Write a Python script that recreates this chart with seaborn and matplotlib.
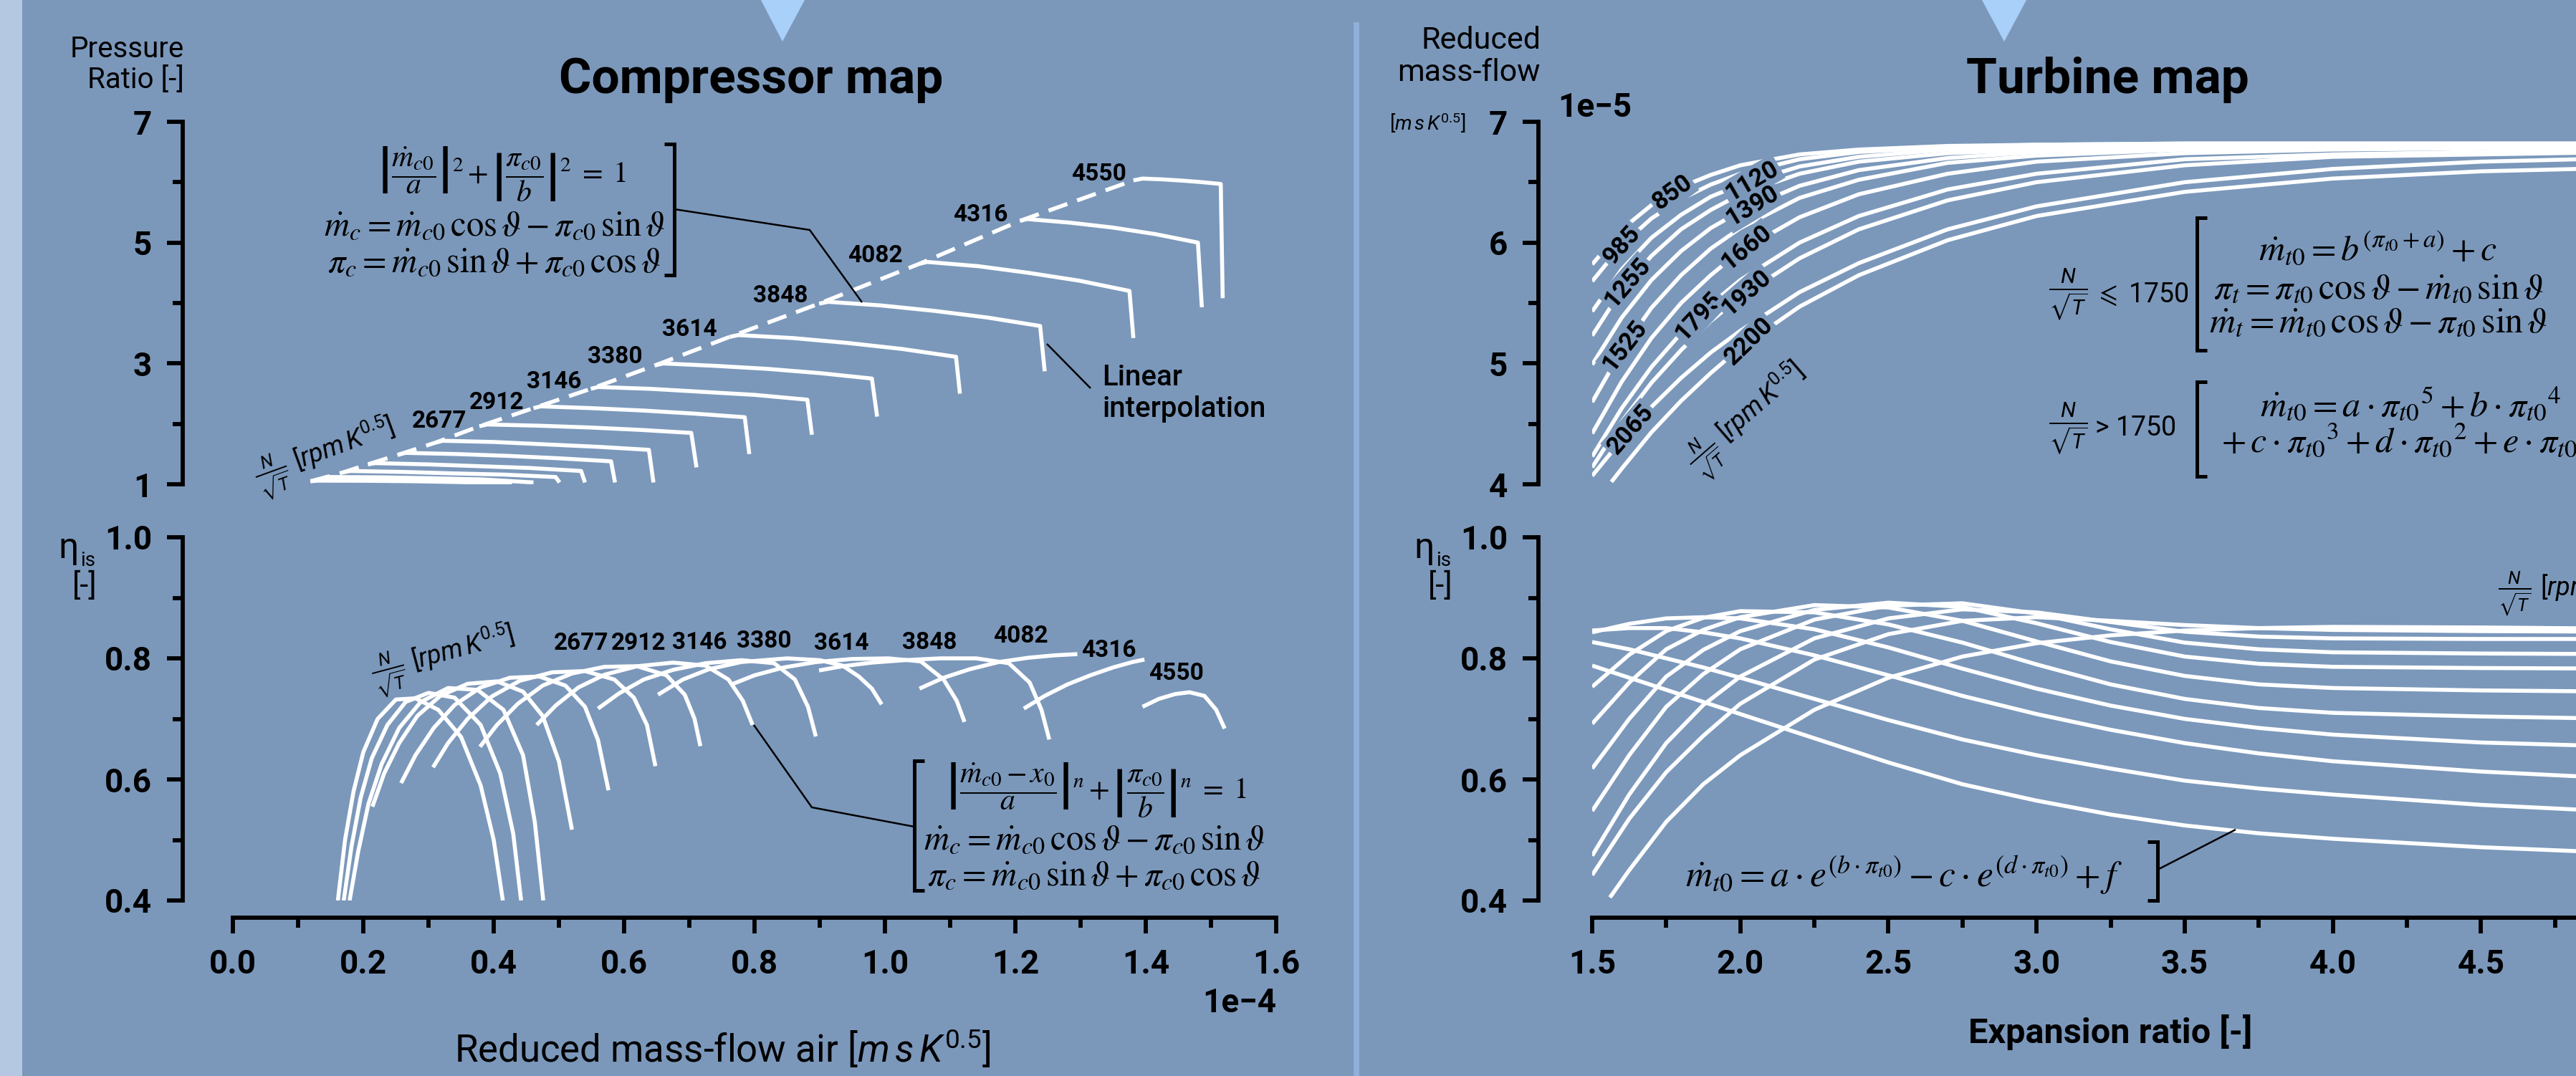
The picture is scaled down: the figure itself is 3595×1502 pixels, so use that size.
import numpy as np
import pandas as pd
import matplotlib
matplotlib.use("Agg")
import matplotlib.pyplot as plt
import seaborn as sns
from matplotlib.ticker import FixedLocator, FuncFormatter
from matplotlib.lines import Line2D
from matplotlib.patches import Polygon, Rectangle

# ------------------------------------------------------------------ data
# Compressor speed lines (reduced mass flow in 1e-4 units, pressure ratio)
COMP_LABELS = ["", "", "", "", "", "", "2677", "2912", "3146", "3380",
               "3614", "3848", "4082", "4316", "4550"]
COMP_PR_X = [
    [0.119, 0.130, 0.204, 0.279, 0.353, 0.428],
    [0.140, 0.150, 0.228, 0.305, 0.383, 0.461],
    [0.170, 0.180, 0.259, 0.338, 0.416, 0.495, 0.501],
    [0.207, 0.218, 0.297, 0.376, 0.455, 0.534, 0.540],
    [0.254, 0.265, 0.344, 0.422, 0.500, 0.580, 0.586],
    [0.311, 0.322, 0.400, 0.480, 0.560, 0.638, 0.645],
    [0.378, 0.390, 0.468, 0.547, 0.625, 0.703, 0.711],
    [0.461, 0.472, 0.550, 0.630, 0.707, 0.785, 0.792],
    [0.549, 0.560, 0.640, 0.720, 0.800, 0.881, 0.888],
    [0.648, 0.660, 0.740, 0.820, 0.900, 0.980, 0.988],
    [0.762, 0.775, 0.859, 0.942, 1.026, 1.109, 1.115],
    [0.899, 0.913, 0.994, 1.076, 1.157, 1.238, 1.245],
    [1.053, 1.065, 1.143, 1.220, 1.298, 1.375, 1.381],
    [1.207, 1.218, 1.284, 1.349, 1.415, 1.480, 1.486],
    [1.381, 1.395, 1.425, 1.455, 1.485, 1.515, 1.518],
]
COMP_PR_Y = [
    [1.05, 1.06, 1.058, 1.05, 1.035, 1.00],
    [1.11, 1.12, 1.115, 1.10, 1.08, 1.03],
    [1.20, 1.22, 1.205, 1.18, 1.16, 1.12, 1.03],
    [1.33, 1.35, 1.33, 1.30, 1.27, 1.22, 1.03],
    [1.49, 1.52, 1.50, 1.47, 1.43, 1.38, 1.03],
    [1.69, 1.72, 1.70, 1.66, 1.62, 1.57, 1.03],
    [1.96, 1.99, 1.97, 1.94, 1.90, 1.85, 1.28],
    [2.26, 2.29, 2.26, 2.22, 2.17, 2.11, 1.50],
    [2.58, 2.61, 2.58, 2.53, 2.48, 2.40, 1.82],
    [2.97, 3.00, 2.96, 2.91, 2.84, 2.75, 2.12],
    [3.44, 3.47, 3.42, 3.34, 3.24, 3.11, 2.50],
    [3.99, 4.02, 3.96, 3.87, 3.76, 3.62, 2.87],
    [4.65, 4.68, 4.61, 4.50, 4.37, 4.20, 3.42],
    [5.36, 5.39, 5.33, 5.25, 5.14, 5.00, 3.93],
    [6.03, 6.06, 6.047, 6.027, 6.002, 5.97, 4.08],
]
# Compressor efficiency lines (reduced mass flow in 1e-4 units, eta_is)
COMP_ETA_X = [
    [0.161, 0.172, 0.185, 0.200, 0.222, 0.250, 0.280, 0.315, 0.350, 0.380, 0.400, 0.414],
    [0.170, 0.182, 0.196, 0.213, 0.237, 0.265, 0.300, 0.340, 0.380, 0.410, 0.430, 0.442],
    [0.179, 0.192, 0.208, 0.228, 0.255, 0.288, 0.330, 0.375, 0.415, 0.445, 0.463, 0.476],
    [0.214, 0.232, 0.255, 0.283, 0.318, 0.360, 0.405, 0.445, 0.475, 0.500, 0.520],
    [0.258, 0.280, 0.308, 0.340, 0.380, 0.425, 0.470, 0.510, 0.540, 0.560, 0.576],
    [0.307, 0.330, 0.360, 0.397, 0.440, 0.490, 0.540, 0.585, 0.615, 0.635, 0.648],
    [0.379, 0.405, 0.437, 0.475, 0.520, 0.570, 0.620, 0.665, 0.693, 0.708, 0.717],
    [0.466, 0.495, 0.530, 0.570, 0.620, 0.675, 0.725, 0.760, 0.782, 0.797],
    [0.560, 0.592, 0.630, 0.675, 0.725, 0.780, 0.830, 0.862, 0.882, 0.894],
    [0.652, 0.690, 0.730, 0.780, 0.850, 0.900, 0.935, 0.960, 0.980, 0.995],
    [0.765, 0.800, 0.845, 0.895, 0.950, 1.005, 1.055, 1.090, 1.110, 1.122],
    [0.899, 0.935, 0.980, 1.030, 1.085, 1.140, 1.190, 1.222, 1.240, 1.252],
    [1.053, 1.090, 1.130, 1.175, 1.220, 1.260, 1.295],
    [1.213, 1.245, 1.280, 1.315, 1.350, 1.380, 1.398],
    [1.395, 1.420, 1.445, 1.467, 1.490, 1.508, 1.521],
]
COMP_ETA_Y = [
    [0.40, 0.50, 0.58, 0.645, 0.70, 0.732, 0.734, 0.715, 0.67, 0.59, 0.50, 0.40],
    [0.40, 0.49, 0.57, 0.635, 0.69, 0.728, 0.743, 0.735, 0.69, 0.61, 0.51, 0.40],
    [0.40, 0.48, 0.56, 0.625, 0.685, 0.728, 0.751, 0.748, 0.715, 0.64, 0.53, 0.40],
    [0.555, 0.61, 0.66, 0.705, 0.738, 0.758, 0.762, 0.745, 0.705, 0.63, 0.517],
    [0.594, 0.64, 0.685, 0.723, 0.752, 0.768, 0.770, 0.755, 0.72, 0.665, 0.582],
    [0.62, 0.66, 0.70, 0.737, 0.763, 0.777, 0.779, 0.765, 0.735, 0.69, 0.622],
    [0.654, 0.69, 0.725, 0.755, 0.775, 0.786, 0.787, 0.772, 0.74, 0.70, 0.655],
    [0.69, 0.722, 0.752, 0.773, 0.787, 0.793, 0.788, 0.765, 0.73, 0.69],
    [0.717, 0.742, 0.765, 0.781, 0.792, 0.797, 0.792, 0.765, 0.72, 0.671],
    [0.74, 0.765, 0.782, 0.794, 0.80, 0.797, 0.788, 0.77, 0.75, 0.724],
    [0.757, 0.772, 0.785, 0.794, 0.799, 0.80, 0.795, 0.765, 0.73, 0.695],
    [0.78, 0.787, 0.793, 0.797, 0.80, 0.80, 0.792, 0.76, 0.715, 0.666],
    [0.75, 0.768, 0.782, 0.794, 0.801, 0.805, 0.807],
    [0.717, 0.738, 0.757, 0.772, 0.785, 0.794, 0.798],
    [0.72, 0.733, 0.741, 0.744, 0.738, 0.715, 0.684],
]

# Turbine speed lines (expansion ratio, reduced mass flow in 1e-5 units)
TURB_LABELS = ["850", "985", "1120", "1255", "1390", "1525", "1660",
               "1795", "1930", "2065", "2200"]
TURB_MF_X = [
    [1.5, 1.6, 1.7, 1.8, 1.9, 2.0, 2.2, 2.4, 2.7, 3.0, 3.5, 4.0, 4.5, 5.0],
] * 10 + [
    [1.565, 1.6, 1.7, 1.8, 1.9, 2.0, 2.2, 2.4, 2.7, 3.0, 3.5, 4.0, 4.5, 5.0],
]
TURB_MF_Y = [
    [5.82, 6.11, 6.31, 6.46, 6.56, 6.64, 6.73, 6.77, 6.80, 6.81, 6.82, 6.82, 6.82, 6.82],
    [5.68, 5.98, 6.20, 6.36, 6.48, 6.57, 6.69, 6.75, 6.79, 6.81, 6.82, 6.82, 6.82, 6.82],
    [5.43, 5.78, 6.04, 6.23, 6.38, 6.48, 6.63, 6.71, 6.77, 6.79, 6.80, 6.81, 6.81, 6.81],
    [5.23, 5.61, 5.89, 6.11, 6.27, 6.40, 6.57, 6.67, 6.74, 6.77, 6.79, 6.80, 6.80, 6.80],
    [4.99, 5.38, 5.69, 5.93, 6.12, 6.26, 6.47, 6.60, 6.70, 6.75, 6.79, 6.80, 6.80, 6.80],
    [4.68, 5.11, 5.46, 5.73, 5.95, 6.12, 6.37, 6.52, 6.66, 6.72, 6.77, 6.78, 6.79, 6.79],
    [4.42, 4.85, 5.21, 5.50, 5.73, 5.93, 6.21, 6.40, 6.57, 6.67, 6.74, 6.77, 6.78, 6.78],
    [4.23, 4.63, 4.97, 5.25, 5.49, 5.69, 6.00, 6.22, 6.44, 6.57, 6.69, 6.73, 6.75, 6.76],
    [4.14, 4.52, 4.84, 5.11, 5.35, 5.55, 5.87, 6.11, 6.35, 6.50, 6.64, 6.71, 6.73, 6.75],
    [4.07, 4.37, 4.64, 4.88, 5.09, 5.27, 5.59, 5.83, 6.11, 6.30, 6.50, 6.61, 6.67, 6.70],
    [4.02, 4.13, 4.43, 4.69, 4.92, 5.13, 5.47, 5.73, 6.02, 6.22, 6.42, 6.53, 6.59, 6.62],
]
# Turbine efficiency lines (expansion ratio, eta_is)
TURB_ETA_X = [
    [1.5, 1.625, 1.75, 1.875, 2.0, 2.25, 2.5, 2.75, 3.0, 3.25, 3.5, 3.75, 4.0, 4.5, 5.0],
] * 10 + [
    [1.56, 1.625, 1.75, 1.875, 2.0, 2.25, 2.5, 2.75, 3.0, 3.25, 3.5, 3.75, 4.0, 4.5, 5.0],
]
TURB_ETA_Y = [
    [0.788, 0.768, 0.748, 0.728, 0.708, 0.668, 0.628, 0.592, 0.565, 0.542, 0.524, 0.511, 0.502, 0.488, 0.478],
    [0.827, 0.815, 0.800, 0.785, 0.768, 0.733, 0.698, 0.666, 0.640, 0.618, 0.598, 0.585, 0.575, 0.558, 0.546],
    [0.846, 0.850, 0.850, 0.843, 0.833, 0.805, 0.772, 0.738, 0.708, 0.682, 0.660, 0.643, 0.630, 0.613, 0.601],
    [0.843, 0.857, 0.866, 0.868, 0.866, 0.848, 0.818, 0.783, 0.750, 0.722, 0.700, 0.685, 0.674, 0.661, 0.654],
    [0.753, 0.806, 0.845, 0.867, 0.878, 0.876, 0.856, 0.826, 0.790, 0.757, 0.733, 0.718, 0.710, 0.704, 0.700],
    [0.692, 0.760, 0.815, 0.847, 0.868, 0.888, 0.884, 0.862, 0.828, 0.795, 0.771, 0.757, 0.751, 0.747, 0.745],
    [0.618, 0.700, 0.770, 0.814, 0.845, 0.880, 0.892, 0.885, 0.858, 0.827, 0.803, 0.791, 0.786, 0.784, 0.783],
    [0.548, 0.640, 0.720, 0.774, 0.815, 0.864, 0.887, 0.891, 0.874, 0.848, 0.826, 0.815, 0.810, 0.808, 0.807],
    [0.474, 0.575, 0.660, 0.723, 0.770, 0.833, 0.866, 0.881, 0.876, 0.860, 0.844, 0.836, 0.833, 0.832, 0.832],
    [0.442, 0.535, 0.612, 0.672, 0.725, 0.798, 0.840, 0.862, 0.868, 0.862, 0.855, 0.850, 0.847, 0.845, 0.844],
    [0.405, 0.450, 0.530, 0.592, 0.640, 0.715, 0.768, 0.803, 0.825, 0.838, 0.846, 0.850, 0.852, 0.851, 0.849],
]

COMP_X_TICKS = [0.0, 0.2, 0.4, 0.6, 0.8, 1.0, 1.2, 1.4, 1.6]
PR_TICKS = [1, 3, 5, 7]
ETA_TICKS = [0.4, 0.6, 0.8, 1.0]
TURB_X_TICKS = [1.5, 2.0, 2.5, 3.0, 3.5, 4.0, 4.5, 5.0]
MF_TICKS = [4, 5, 6, 7]

COMP_SCALE = 1e-4
TURB_SCALE = 1e-5

# ------------------------------------------------------------------ style
BG = "#7b98bb"
W, H, DPI = 3595, 1502, 100
LW = 4.0
SPINE_LW = 4.2
TICK_FS = 33

sns.set_theme(style="ticks")
plt.rcParams["font.family"] = ["Roboto", "DejaVu Sans"]
plt.rcParams.update({
    "mathtext.fontset": "custom",
    "mathtext.rm": "Roboto",
    "mathtext.it": "Roboto:italic",
    "mathtext.bf": "Roboto:bold",
    "mathtext.sf": "Roboto",
    "mathtext.fallback": "stixsans",
    "axes.edgecolor": "black",
    "xtick.color": "black",
    "ytick.color": "black",
    "text.color": "black",
    "figure.facecolor": BG,
    "savefig.facecolor": BG,
})

fig = plt.figure(figsize=(W / DPI, H / DPI), dpi=DPI)

# background decorations
bg = fig.add_axes([0, 0, 1, 1], zorder=0)
bg.set_xlim(0, W); bg.set_ylim(H, 0); bg.axis("off")
bg.add_patch(Rectangle((0, 0), 31, H, color="#b4c8e1", lw=0))
bg.add_patch(Rectangle((1889, 31), 8, H, color="#90b0d9", lw=0))
bg.add_patch(Polygon([(1062, 0), (1123, 0), (1092, 58)], color="#a9d0f9", lw=0))
bg.add_patch(Polygon([(2766, 0), (2828, 0), (2797, 58)], color="#a9d0f9", lw=0))


def add_ax(l, t, r, b):
    ax = fig.add_axes([l / W, 1 - b / H, (r - l) / W, (b - t) / H], zorder=2)
    ax.set_facecolor("none")
    return ax


ax_cp = add_ax(325, 170, 1781, 676)
ax_ce = add_ax(325, 750, 1781, 1257)
ax_tm = add_ax(2222, 170, 3669, 676)
ax_te = add_ax(2222, 750, 3669, 1257)


def long_df(xs, ys, sx=1.0, sy=1.0):
    rows = []
    for i, (xx, yy) in enumerate(zip(xs, ys)):
        for a, b in zip(xx, yy):
            rows.append((i, a * sx, b * sy))
    return pd.DataFrame(rows, columns=["curve", "x", "y"])


line_kw = dict(units="curve", estimator=None, sort=False, color="white",
               lw=LW, legend=False, solid_capstyle="butt", solid_joinstyle="round")

sns.lineplot(data=long_df(COMP_PR_X, COMP_PR_Y, COMP_SCALE), x="x", y="y", ax=ax_cp, **line_kw)
surge = pd.DataFrame({"x": [c[0] * COMP_SCALE for c in COMP_PR_X],
                      "y": [c[0] for c in COMP_PR_Y]})
sns.lineplot(data=surge, x="x", y="y", ax=ax_cp, sort=False, color="white", lw=LW,
             linestyle=(0, (5, 2.6)), legend=False)
sns.lineplot(data=long_df(COMP_ETA_X, COMP_ETA_Y, COMP_SCALE), x="x", y="y", ax=ax_ce, **line_kw)
sns.lineplot(data=long_df(TURB_MF_X, TURB_MF_Y, 1.0, TURB_SCALE), x="x", y="y", ax=ax_tm, **line_kw)
sns.lineplot(data=long_df(TURB_ETA_X, TURB_ETA_Y), x="x", y="y", ax=ax_te, **line_kw)


def style_ax(ax, xlim, ylim, yticks, yminor, yfmt, left_off, xticks=None, xminor=None, xfmt=None):
    ax.set_xlim(*xlim); ax.set_ylim(*ylim)
    ax.set_xlabel(""); ax.set_ylabel("")
    for s in ["top", "right"]:
        ax.spines[s].set_visible(False)
    ax.spines["left"].set_position(("outward", left_off))
    ax.spines["left"].set_bounds(yticks[0], yticks[-1])
    ax.spines["left"].set_linewidth(SPINE_LW)
    ax.spines["left"].set_capstyle("projecting")
    ax.yaxis.set_major_locator(FixedLocator(yticks))
    ax.yaxis.set_minor_locator(FixedLocator(yminor))
    ax.yaxis.set_major_formatter(FuncFormatter(yfmt))
    ax.tick_params(axis="y", which="major", length=15.8, width=SPINE_LW, pad=15,
                   labelsize=TICK_FS, direction="out")
    ax.tick_params(axis="y", which="minor", length=10, width=SPINE_LW, direction="out")
    for lab in ax.get_yticklabels():
        lab.set_fontweight("bold")
    if xticks is None:
        ax.spines["bottom"].set_visible(False)
        ax.tick_params(axis="x", which="both", bottom=False, labelbottom=False)
    else:
        ax.spines["bottom"].set_position(("outward", 17.3))
        ax.spines["bottom"].set_bounds(xticks[0], xticks[-1])
        ax.spines["bottom"].set_linewidth(SPINE_LW)
        ax.spines["bottom"].set_capstyle("projecting")
        ax.xaxis.set_major_locator(FixedLocator(xticks))
        ax.xaxis.set_minor_locator(FixedLocator(xminor))
        ax.xaxis.set_major_formatter(FuncFormatter(xfmt))
        ax.tick_params(axis="x", which="major", length=15.8, width=SPINE_LW, pad=15,
                       labelsize=TICK_FS, direction="out")
        ax.tick_params(axis="x", which="minor", length=10, width=SPINE_LW, direction="out")
        for lab in ax.get_xticklabels():
            lab.set_fontweight("bold")


cx = [t * COMP_SCALE for t in COMP_X_TICKS]
cxm = [(COMP_X_TICKS[i] + COMP_X_TICKS[i + 1]) / 2 * COMP_SCALE for i in range(len(COMP_X_TICKS) - 1)]
style_ax(ax_cp, (cx[0], cx[-1]), (1, 7), PR_TICKS, [2, 4, 6], lambda v, p: f"{v:.0f}", 50.4)
style_ax(ax_ce, (cx[0], cx[-1]), (0.4, 1.0), ETA_TICKS, [0.5, 0.7, 0.9],
         lambda v, p: f"{v:.1f}", 50.4, cx, cxm, lambda v, p: f"{v / COMP_SCALE:.1f}")
mf = [t * TURB_SCALE for t in MF_TICKS]
style_ax(ax_tm, (1.5, 5.0), (mf[0], mf[-1]), mf, [4.5e-5, 5.5e-5, 6.5e-5],
         lambda v, p: f"{v / TURB_SCALE:.0f}", 54)
txm = [(TURB_X_TICKS[i] + TURB_X_TICKS[i + 1]) / 2 for i in range(len(TURB_X_TICKS) - 1)]
# last tick (5.0) lies beyond the picture edge, its label is not visible there
style_ax(ax_te, (1.5, 5.0), (0.4, 1.0), ETA_TICKS, [0.5, 0.7, 0.9],
         lambda v, p: f"{v:.1f}", 54, TURB_X_TICKS, txm,
         lambda v, p: "" if v > 4.9 else f"{v:.1f}")

# turbine speed labels sitting on the lines
TURB_LABEL_X = [1.77, 1.60, 2.04, 1.62, 2.04, 1.61, 2.02, 1.86, 2.02, 1.63, 2.03]
TURB_LABEL_ROT = [36, 48, 30, 49, 31, 52, 39, 47, 41, 49, 44]
for lab, lx, rot, xx, yy in zip(TURB_LABELS, TURB_LABEL_X, TURB_LABEL_ROT, TURB_MF_X, TURB_MF_Y):
    ly = np.interp(lx, xx, yy) * TURB_SCALE
    ax_tm.text(lx, ly, lab, rotation=rot, rotation_mode="anchor", ha="center", va="center",
               fontsize=25, fontweight="bold", zorder=5,
               bbox=dict(boxstyle="square,pad=0.08", fc=BG, ec="none"))

# ------------------------------------------------------------------ foreground overlay
fg = fig.add_axes([0, 0, 1, 1], zorder=10)
fg.set_xlim(0, W); fg.set_ylim(H, 0); fg.axis("off"); fg.patch.set_alpha(0)


def T(x, y, s, **kw):
    kw.setdefault("ha", "center"); kw.setdefault("va", "center")
    return fg.text(x, y, s, **kw)


def L(pts, lw=1.8):
    xs, ys = zip(*pts)
    fg.add_line(Line2D(xs, ys, color="black", lw=lw, solid_capstyle="butt",
                       solid_joinstyle="miter", clip_on=False))


# titles
T(1048, 112, "Compressor map", fontsize=50, fontweight="bold")
T(2941, 112, "Turbine map", fontsize=50, fontweight="bold")

# axis labels
T(257, 90, "Pressure\nRatio [-]", ha="right", fontsize=29, linespacing=1.15, multialignment="right")
T(2150, 79, "Reduced\nmass-flow", ha="right", fontsize=31, linespacing=1.1, multialignment="right")
T(1992, 172, r"$[m\,s\,K^{0.5}]$", fontsize=20)
T(2174, 150, "1e\u22125", ha="left", fontsize=33, fontweight="bold")
T(1781, 1400, "1e\u22124", ha="right", fontsize=33, fontweight="bold")
T(1008, 1465, r"Reduced mass-flow air [$m\,s\,K^{0.5}$]", fontsize=38)
T(2945, 1441, "Expansion ratio [-]", fontsize=35, fontweight="bold")
for ex in (118, 2010):
    T(ex - 8, 765, "\u03b7", ha="right", fontsize=36)
    T(ex - 6, 782, "is", ha="left", fontsize=20)
    T(ex, 818, "[-]", fontsize=31)

# speed labels compressor
COMP_PR_LABEL_POS = [None] * 6 + [(613, 588), (693, 562), (773, 533), (858, 498), (962, 460),
                                  (1089, 413), (1221, 357), (1368, 300), (1533, 243)]
COMP_ETA_LABEL_POS = [None] * 6 + [(811, 898), (891, 898), (976, 897), (1066, 895), (1174, 898),
                                   (1297, 897), (1424, 888), (1547, 908), (1641, 940)]
for lab, p1, p2 in zip(COMP_LABELS, COMP_PR_LABEL_POS, COMP_ETA_LABEL_POS):
    if lab:
        T(*p1, lab, fontsize=24, fontweight="bold")
        T(*p2, lab, fontsize=24, fontweight="bold")

NT = r"$\frac{N}{\sqrt{T}}\ [rpm\,K^{0.5}]$"
T(455, 638, NT, fontsize=26, rotation=20, rotation_mode="anchor")
T(620, 920, NT, fontsize=26, rotation=15, rotation_mode="anchor")
T(2441, 587, NT, fontsize=26, rotation=41, rotation_mode="anchor")
T(3486, 829, NT, ha="left", fontsize=26)

# equations
EQ = dict(fontsize=35, math_fontfamily="stix")
EQ1 = dict(fontsize=30, math_fontfamily="stix")
EQT = dict(fontsize=36, math_fontfamily="stix")
T(700, 243, r"$\left|\dfrac{\dot{m}_{c0}}{a}\right|^{2}\,{+}\,\left|\dfrac{\pi_{c0}}{b}\right|^{2}\;{=}\;1$", **EQ1)
T(690, 315, r"$\dot{m}_{c}=\dot{m}_{c0}\,\cos\vartheta-\pi_{c0}\,\sin\vartheta$", **EQ)
T(690, 366, r"$\pi_{c}=\dot{m}_{c0}\,\sin\vartheta+\pi_{c0}\,\cos\vartheta$", **EQ)
L([(927, 201), (941, 201), (941, 384), (927, 384)], lw=3.6)
L([(941, 292), (1130, 321), (1203, 422)])

T(1538, 549, "Linear\ninterpolation", ha="left", fontsize=29, fontweight="medium",
  linespacing=1.2)
L([(1461, 480), (1522, 542)])

T(1530, 1103, r"$\left|\dfrac{\dot{m}_{c0}\,{-}\,x_{0}}{a}\right|^{n}\,{+}\,\left|\dfrac{\pi_{c0}}{b}\right|^{n}\;{=}\;1$", **EQ1)
T(1527, 1172, r"$\dot{m}_{c}=\dot{m}_{c0}\,\cos\vartheta-\pi_{c0}\,\sin\vartheta$", **EQ)
T(1527, 1222, r"$\pi_{c}=\dot{m}_{c0}\,\sin\vartheta+\pi_{c0}\,\cos\vartheta$", **EQ)
L([(1290, 1062), (1276, 1062), (1276, 1243), (1290, 1243)], lw=3.6)
L([(1276, 1154), (1133, 1127), (1052, 1012)])

T(2886, 411, r"$\frac{N}{\sqrt{T}}$", fontsize=31)
T(2924, 411, r"$\leqslant$ 1750", ha="left", fontsize=27, math_fontfamily="stixsans")
T(3319, 348, r"$\dot{m}_{t0}=b^{(\pi_{t0}+a)}+c$", **EQT)
T(3319, 402, r"$\pi_{t}=\pi_{t0}\,\cos\vartheta-\dot{m}_{t0}\,\sin\vartheta$", **EQT)
T(3319, 449, r"$\dot{m}_{t}=\dot{m}_{t0}\,\cos\vartheta-\pi_{t0}\,\sin\vartheta$", **EQT)
L([(3080, 304), (3066, 304), (3066, 489), (3080, 489)], lw=3.6)

T(2886, 598, r"$\frac{N}{\sqrt{T}}$", fontsize=31)
T(2924, 598, "> 1750", ha="left", fontsize=27)
T(3154, 565, r"$\dot{m}_{t0}=a\cdot{\pi_{t0}}^{5}+b\cdot{\pi_{t0}}^{4}$", ha="left", **EQT)
T(3100, 616, r"$+\,c\cdot{\pi_{t0}}^{3}+d\cdot{\pi_{t0}}^{2}+e\cdot\pi_{t0}+f$", ha="left", **EQT)
L([(3080, 533), (3066, 533), (3066, 665), (3080, 665)], lw=3.6)

T(2352, 1222, r"$\dot{m}_{t0}=a\cdot e^{(b\cdot\pi_{t0})}-c\cdot e^{(d\cdot\pi_{t0})}+f$",
  ha="left", fontsize=37, math_fontfamily="stix")
L([(2997, 1175), (3011, 1175), (3011, 1257), (2997, 1257)], lw=3.6)
L([(3011, 1214), (3120, 1158)])

fig.savefig("out.png", dpi=DPI, facecolor=BG)
